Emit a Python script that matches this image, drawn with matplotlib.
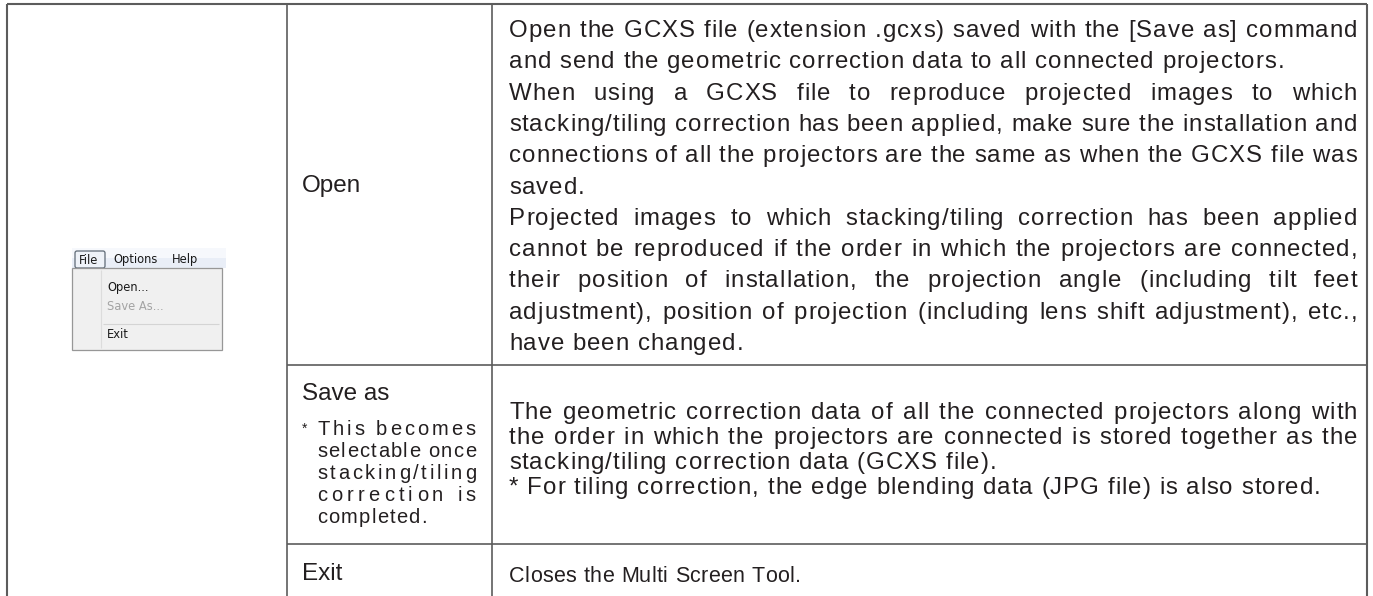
import matplotlib.pyplot as plt
from matplotlib.patches import Rectangle, FancyBboxPatch

W, H = 1373, 596
FONT = "Liberation Sans"
INK = "#231f20"
RULE = "#5c5c5c"

# table content
commands = ["Open", "Save as", "Exit"]

open_paras = [
    ["Open the GCXS file (extension .gcxs) saved with the [Save as] command",
     "and send the geometric correction data to all connected projectors."],
    ["When using a GCXS file to reproduce projected images to which",
     "stacking/tiling correction has been applied, make sure the installation and",
     "connections of all the projectors are the same as when the GCXS file was",
     "saved."],
    ["Projected images to which stacking/tiling correction has been applied",
     "cannot be reproduced if the order in which the projectors are connected,",
     "their position of installation, the projection angle (including tilt feet",
     "adjustment), position of projection (including lens shift adjustment), etc.,",
     "have been changed."],
]

save_paras = [
    ["The geometric correction data of all the connected projectors along with",
     "the order in which the projectors are connected is stored together as the",
     "stacking/tiling correction data (GCXS file)."],
    ["* For tiling correction, the edge blending data (JPG file) is also stored."],
]

save_note = ["This becomes", "selectable once", "stacking/tiling", "correction is", "completed."]

exit_text = "Closes the Multi Screen Tool."

menu_bar = ["File", "Options", "Help"]
menu_items = ["Open...", "Save As...", "Exit"]
menu_enabled = [True, False, True]


fig = plt.figure(figsize=(W / 100, H / 100), dpi=100)
ax = fig.add_axes([0, 0, 1, 1])
ax.set_xlim(0, W)
ax.set_ylim(H, 0)
ax.axis("off")
renderer = fig.canvas.get_renderer()

_cache = {}


def width(s, size):
    t = ax.text(0, 0, s, fontsize=size, family=FONT)
    w = t.get_window_extent(renderer).width
    t.remove()
    return w


def advance(c, size):
    key = (c, size)
    if key not in _cache:
        _cache[key] = width("|" + c + "|", size) - width("||", size)
    return _cache[key]


def put(x, y, s, size, **kw):
    ax.text(x, y, s, fontsize=size, family=FONT, color=INK, va="baseline", **kw)


def set_line(line, x0, x1, y, size, track, last=False, by_space=True):
    """place a line glyph by glyph with letter spacing, justified to x1 unless last"""
    adv = [advance(c, size) for c in line]
    n = len(line)
    natural = sum(adv) + track * (n - 1)
    spaces = line.count(" ")
    extra_sp, extra_ch = 0.0, 0.0
    if not last:
        room = (x1 - x0) - natural
        if by_space and spaces:
            extra_sp = room / spaces
        else:
            extra_ch = room / (n - 1)
    x = x0
    for c, a in zip(line, adv):
        if c != " ":
            put(x, y, c, size)
        x += a + track + extra_ch
        if c == " ":
            x += extra_sp


def paragraphs(paras, x0, x1, y0, step, size, track):
    y = y0
    for p in paras:
        for k, line in enumerate(p):
            set_line(line, x0, x1, y, size, track, last=(k == len(p) - 1))
            y += step


# grid rules
ax.hlines(4, 7, 1367, color=RULE, lw=1.5)
ax.vlines([7, 1367], 4, H, color=RULE, lw=1.5)
ax.vlines([287, 492], 4, H, color=RULE, lw=1.2)
ax.hlines([365, 544], 287, 1367, color=RULE, lw=1.2)

# command column
label_size = 17.5
put(302, 192, commands[0], label_size)
put(302, 400, commands[1], label_size)
put(302, 580, commands[2], label_size)

put(302, 433, "*", 10)
for k, line in enumerate(save_note):
    set_line(line, 317, 476, 435 + 22 * k, 14.5, 1.2,
             last=(k == len(save_note) - 1), by_space=False)

# description column
desc_size = 17.3
desc_track = 1.0
paragraphs(open_paras, 509, 1357, 37, 31.3, desc_size, desc_track)
paragraphs(save_paras, 509, 1357, 419, 25, desc_size, desc_track)
set_line(exit_text, 509, 1357, 582, 15.5, 0.4, last=True)

# menu screenshot
ax.add_patch(Rectangle((72, 248), 154, 10, fc="#f6f8fc", ec="none"))
ax.add_patch(Rectangle((72, 258), 154, 10, fc="#e9eef7", ec="none"))
ax.add_patch(FancyBboxPatch((75, 251), 30, 17, boxstyle="round,pad=0,rounding_size=2",
                            fc="#eef2f8", ec="#5f6a76", lw=0.9))
ax.add_patch(Rectangle((72, 268), 150, 82, fc="#f0f0f0", ec="#979797", lw=0.9))
ax.vlines(101, 270, 348, color="#dcdcdc", lw=0.8)
ax.hlines(324, 103, 219, color="#d4d4d4", lw=0.8)

bar_x = [79, 113, 172]
for x, s in zip(bar_x, menu_bar):
    ax.text(x, 260, s, fontsize=8.3, family="DejaVu Sans", color="#1a1a1a", va="center")
item_y = [287, 307, 335]
for y, s, on in zip(item_y, menu_items, menu_enabled):
    ax.text(107, y, s, fontsize=8.3, family="DejaVu Sans",
            color="#1a1a1a" if on else "#a3a3a3", va="center")

fig.savefig("out.png", dpi=100)
